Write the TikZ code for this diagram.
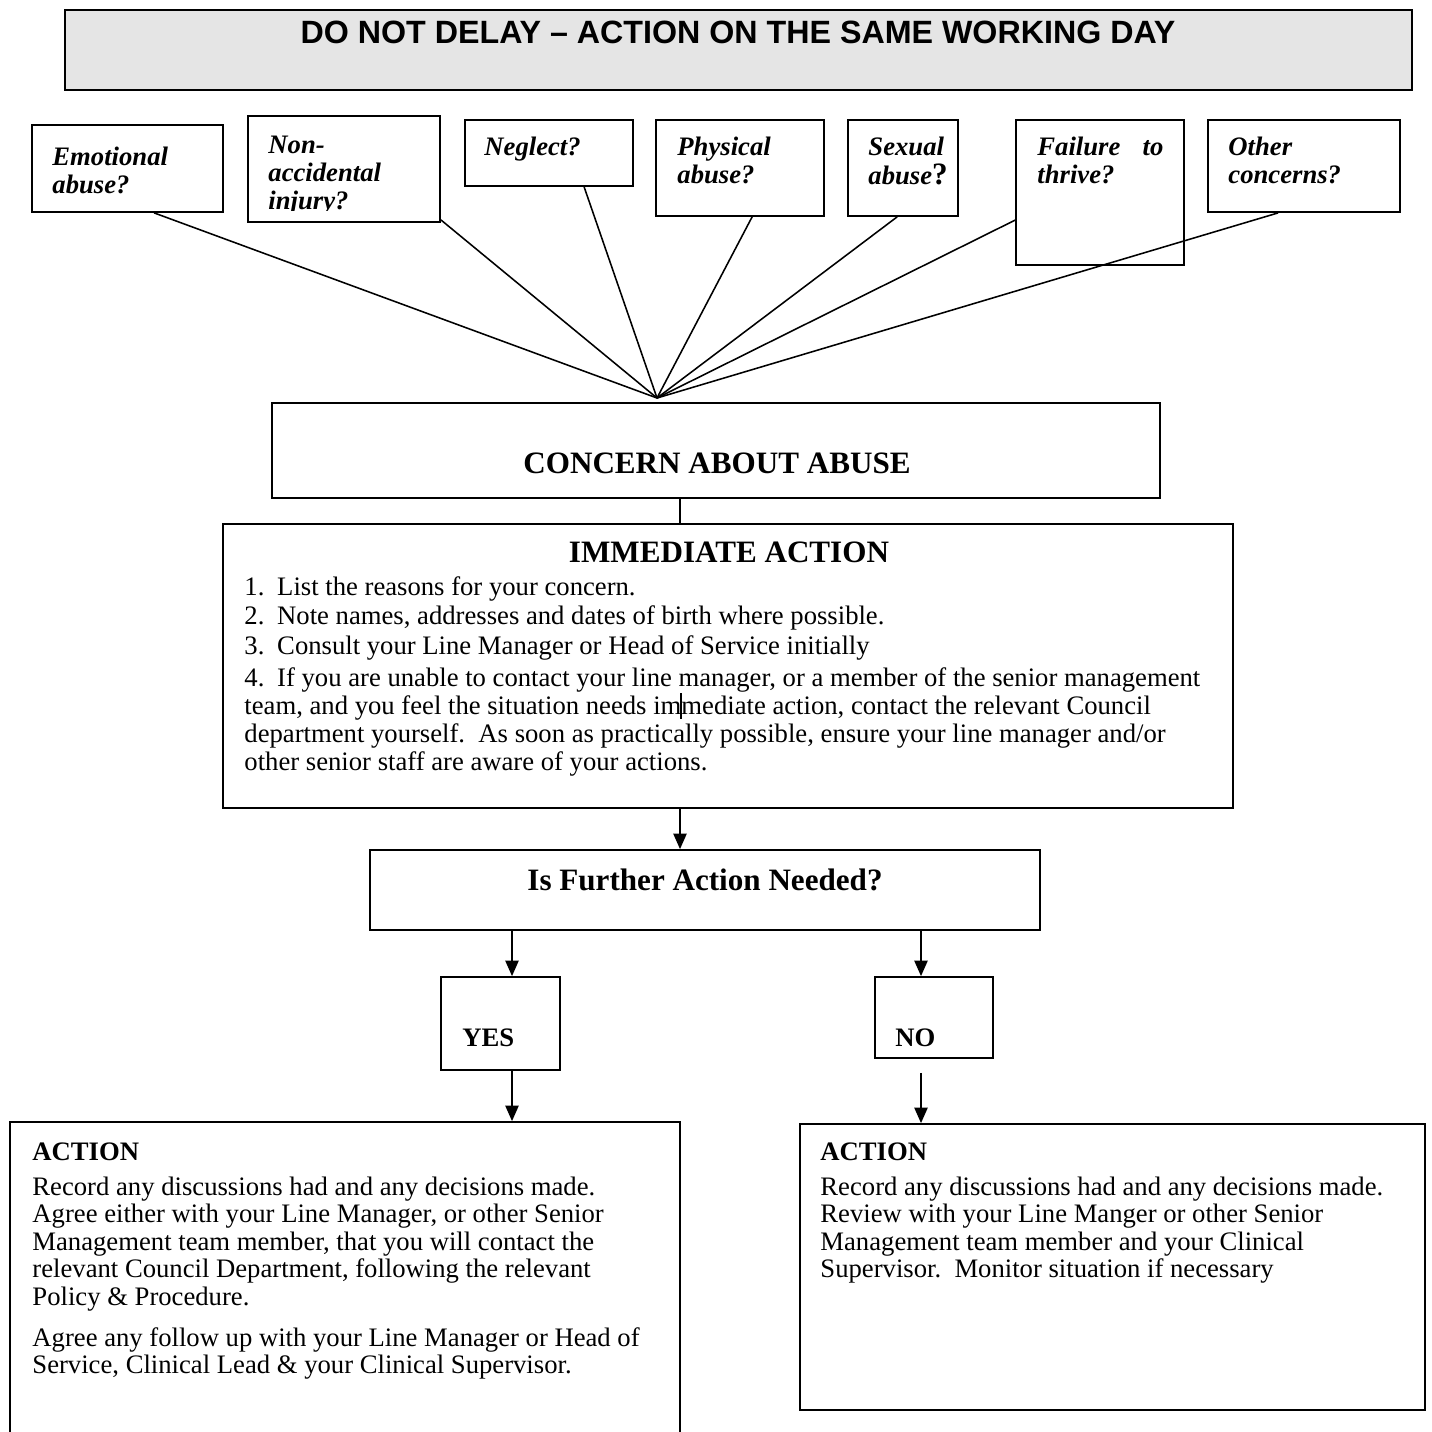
\documentclass[tikz,border=0pt]{standalone}
\usepackage{fontspec}
\setmainfont{Liberation Serif}
\newfontfamily\arialfont{Liberation Sans}
\usetikzlibrary{arrows.meta,fit}
\newcommand{\mylines}[1]{\begin{tabular}[t]{@{}l@{}}#1\end{tabular}}
\begin{document}
\begin{tikzpicture}[x=0.45pt,y=-0.45pt,
  box/.style={draw, line width=0.8pt, fill=white, inner sep=0pt},
  titlebox/.style={box, fill=black!10},
  lbl/.style={inner sep=0pt, anchor=base west, font=\fontsize{12}{12.8}\selectfont\bfseries\itshape},
  body/.style={inner sep=0pt, anchor=base west, font=\fontsize{12}{12.4}\selectfont},
  head/.style={inner sep=0pt, anchor=base, font=\fontsize{14}{16}\selectfont\bfseries},
  conn/.style={line width=0.7pt},
  arr/.style={line width=0.7pt, -{Triangle[length=7pt,width=6pt]}},
]
\useasboundingbox (0,0) rectangle (1432,1432);
\clip (0,0) rectangle (1432,1432);

% title
\node[titlebox, fit={(65,10) (1412,90)}] (title) {};
\node[inner sep=0pt, anchor=base, font=\arialfont\bfseries\fontsize{14.5}{16}\selectfont] (titleT) at (738,43) {DO NOT DELAY – ACTION ON THE SAME WORKING DAY};

% concern boxes
\node[box, fit={(32,125) (223,212)}] (emo) {};
\node[box, fit={(248,116) (440,222)}] (nai) {};
\node[box, fit={(465,120) (633,186)}] (neg) {};
\node[box, fit={(656,120) (824,216)}] (phy) {};
\node[box, fit={(848,120) (958,216)}] (sex) {};
\node[box, fit={(1016,120) (1184,265)}] (fail) {};
\node[box, fit={(1208,120) (1400,212)}] (oth) {};

\node[lbl] (emoT) at (52,165) {\mylines{Emotional\\abuse?}};
\begin{scope}
\clip (248,116) rectangle (440,210);
\node[lbl] (naiT) at (268,153) {\mylines{Non-\\accidental\\injury?}};
\end{scope}
\node[lbl] (negT) at (484,155) {Neglect?};
\node[lbl] (phyT) at (677,155) {\mylines{Physical\\abuse?}};
\node[lbl] (sexT) at (868,155) {\mylines{Sexual\\abuse{\upshape\fontsize{14}{14}\selectfont ?}}};
\node[lbl] (failT) at (1037,155) {\mylines{\makebox[126\dimexpr 0.45pt\relax][s]{Failure\hfill to}\\thrive?}};
\node[lbl] (othT) at (1228,155) {\mylines{Other\\concerns?}};

% hub and fan lines
\coordinate (hub) at (657,398);
\draw[conn] (emo.south west) ++(123,0) -- (hub);
\draw[conn] (nai.south east) ++(0,-3) -- (hub);
\draw[conn] (neg.south west) ++(120,0) -- (hub);
\draw[conn] (phy.south west) ++(97,0) -- (hub);
\draw[conn] (sex.south west) ++(50,0) -- (hub);
\draw[conn] (fail.north west) ++(0,101) -- (hub);
\draw[conn] (oth.south west) ++(71,0) -- (hub);

% concern about abuse
\node[box, fit={(272,403) (1160,498)}] (conc) {};
\node[head] (concT) at (717,473) {CONCERN ABOUT ABUSE};

% immediate action
\coordinate (cx) at (680,0);
\node[box, fit={(223,524) (1233,808)}] (imm) {};
\draw[conn] (conc.south -| cx) -- (imm.north -| cx);
\node[head] (immT) at (729,562) {IMMEDIATE ACTION};
\node[body] (i1) at (244,595) {1.\hspace{0.48em}List the reasons for your concern.};
\node[body] (i2) at (244,624) {2.\hspace{0.48em}Note names, addresses and dates of birth where possible.};
\node[body] (i3) at (244,654) {3.\hspace{0.48em}Consult your Line Manager or Head of Service initially};
\node[body, font=\fontsize{12}{12.6}\selectfont] (i4) at (244,686) {\mylines{4.\hspace{0.48em}If you are unable to contact your line manager, or a member of the senior management\\team, and you feel the situation needs immediate action, contact the relevant Council\\department yourself.\ \ As soon as practically possible, ensure your line manager and/or\\other senior staff are aware of your actions.}};
\draw[conn] (681,693) -- (681,719);

% further action
\node[box, fit={(370,850) (1040,930)}] (fur) {};
\draw[arr] (imm.south -| cx) -- (fur.north -| cx);
\node[head] (furT) at (705,890) {Is Further Action Needed?};

% yes / no
\coordinate (yx) at (512,0);
\coordinate (nx) at (921,0);
\node[box, fit={(441,977) (560,1070)}] (yes) {};
\node[box, fit={(875,977) (993,1058)}] (no) {};
\node[inner sep=0pt, anchor=base west, font=\fontsize{12}{14}\selectfont\bfseries] (yesT) at (462,1046) {YES};
\node[inner sep=0pt, anchor=base west, font=\fontsize{12}{14}\selectfont\bfseries] (noT) at (895,1046) {NO};
\draw[arr] (fur.south -| yx) -- (yes.north -| yx);
\draw[arr] (fur.south -| nx) -- (no.north -| nx);

% action boxes
\node[box, fit={(10,1122) (680,1450)}] (lact) {};
\node[box, fit={(800,1124) (1425,1410)}] (ract) {};
\draw[arr] (yes.south -| yx) -- (lact.north -| yx);
\draw[arr] (no.south -| nx) ++(0,14) -- (ract.north -| nx);

\node[body, font=\fontsize{12}{14}\selectfont\bfseries] (laH) at (32,1160) {ACTION};
\node[body] (laB) at (32,1195) {\mylines{Record any discussions had and any decisions made.\\Agree either with your Line Manager, or other Senior\\Management team member, that you will contact the\\relevant Council Department, following the relevant\\Policy \& Procedure.}};
\node[body] (laC) at (32,1346) {\mylines{Agree any follow up with your Line Manager or Head of\\Service, Clinical Lead \& your Clinical Supervisor.}};

\node[body, font=\fontsize{12}{14}\selectfont\bfseries] (raH) at (820,1160) {ACTION};
\node[body] (raB) at (820,1195) {\mylines{Record any discussions had and any decisions made.\\Review with your Line Manger or other Senior\\Management team member and your Clinical\\Supervisor.\ \ Monitor situation if necessary}};
\end{tikzpicture}
\end{document}
